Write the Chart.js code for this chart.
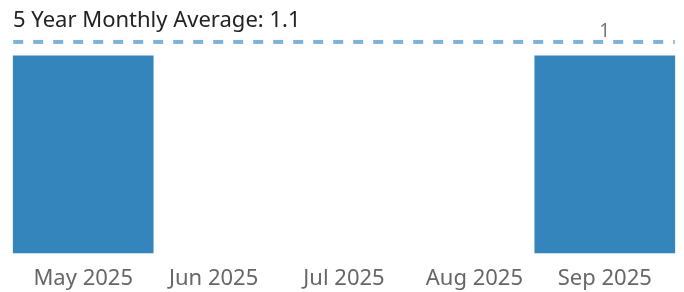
<!DOCTYPE html>
<html>
<head>
<meta charset="utf-8">
<script src="https://cdn.jsdelivr.net/npm/chart.js@4"></script>
<style>
    body { margin: 0; background: #fff; }
    #wrap { position: relative; width: 684px; height: 292px; }
</style>
</head>
<body>
<div id="wrap"><canvas id="chart"></canvas></div>
<script>
const months = ['May 2025', 'Jun 2025', 'Jul 2025', 'Aug 2025', 'Sep 2025'];
const counts = [1, null, null, null, 1]; // empty months have no bar
const avgValue = 1.07;
const titleText = '5 Year Monthly Average: ' + avgValue.toFixed(1);

const fontFamily = '"Noto Sans", "Open Sans", sans-serif';

// dashed average line, title and the label over the last bar
const extras = {
    id: 'extras',
    afterDatasetsDraw(chart) {
        const ctx = chart.ctx;
        const y = chart.scales.y.getPixelForValue(avgValue);
        const bars = chart.getDatasetMeta(0).data;
        const xs = chart.scales.x;
        const half = 70;
        const x0 = xs.getPixelForValue(0) - half;
        const x1 = xs.getPixelForValue(months.length - 1) + half;
        ctx.save();
        ctx.strokeStyle = '#7fb3d6';
        ctx.lineWidth = 4;
        ctx.setLineDash([10, 10]);
        ctx.beginPath();
        ctx.moveTo(x0, y);
        ctx.lineTo(x1, y);
        ctx.stroke();
        ctx.setLineDash([]);

        ctx.fillStyle = '#222';
        ctx.font = '22px ' + fontFamily;
        ctx.textAlign = 'left';
        ctx.textBaseline = 'alphabetic';
        ctx.fillText(titleText, 13, 27);

        ctx.fillStyle = '#777';
        ctx.font = '19px ' + fontFamily;
        ctx.textAlign = 'center';
        ctx.fillText(String(counts[counts.length - 1]), xs.getPixelForValue(months.length - 1), y - 5);
        ctx.restore();
    }
};

let ctx = document.getElementById('chart').getContext('2d');
let chart = new Chart(ctx, {
    type: 'bar',
    data: {
        labels: months,
        datasets: [{
            data: counts,
            backgroundColor: '#3385bb',
            barThickness: 140,
            clip: false
        }]
    },
    options: {
        responsive: true,
        maintainAspectRatio: false,
        animation: false,
        layout: { padding: { left: 18, right: 14, top: 36, bottom: 0 } },
        plugins: {
            legend: { display: false },
            tooltip: { enabled: false }
        },
        scales: {
            x: {
                grid: { display: false },
                border: { display: false },
                ticks: {
                    color: '#666',
                    font: { family: fontFamily, size: 22 },
                    padding: 5
                },
                afterFit(scale) { scale.height = 39; }
            },
            y: {
                display: false,
                min: 0,
                max: 1.1
            }
        }
    },
    plugins: [extras]
});
</script>
</body>
</html>
